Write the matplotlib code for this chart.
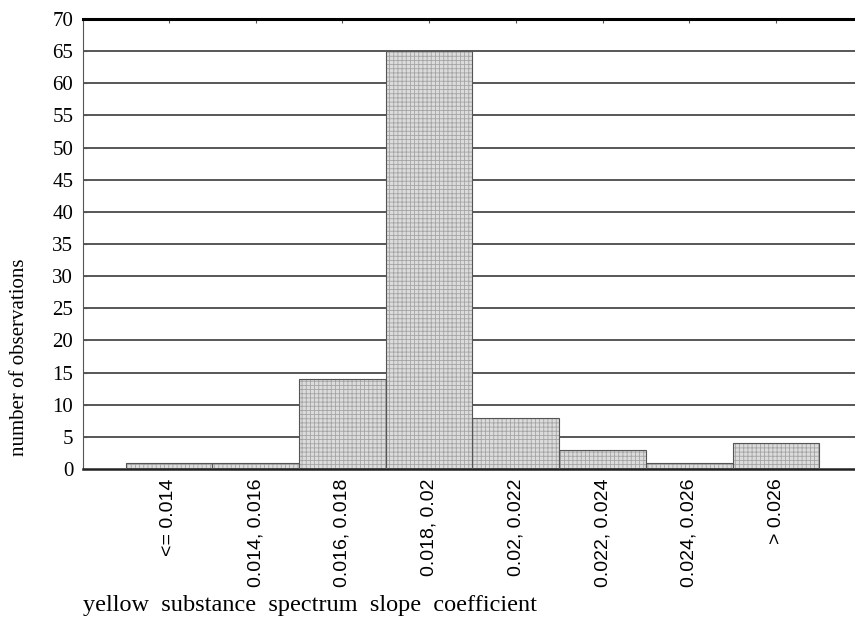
import numpy as np
import matplotlib
matplotlib.use("Agg")
import matplotlib.pyplot as plt

categories = ["<= 0.014", "0.014, 0.016", "0.016, 0.018", "0.018, 0.02",
              "0.02, 0.022", "0.022, 0.024", "0.024, 0.026", "> 0.026"]
counts = [1, 1, 14, 65, 8, 3, 1, 4]
yticks = list(range(0, 75, 5))

plt.rcParams['hatch.color'] = '#a4a4a4'
plt.rcParams['hatch.linewidth'] = 0.6

fig = plt.figure(figsize=(8.55, 6.3), dpi=100)
ax = fig.add_axes([0.0971, 0.2556, 0.9029, 0.7142])

x = np.arange(len(categories))
# grid first, bars cover it
for yv in yticks[1:-1]:
    ax.axhline(yv, color='#2a2a2a', lw=1.1, zorder=1)

# hatched fill then outline on top
ax.bar(x, counts, width=1.0, color='#dcdcdc', hatch='++++', edgecolor='#a4a4a4',
       linewidth=0, zorder=2)
ax.bar(x, counts, width=1.0, fill=False, edgecolor='#555555', linewidth=0.8, zorder=3)

ax.set_xlim(-0.99, 7.91)
ax.set_ylim(0, 70)
ax.set_yticks(yticks)
ax.set_yticklabels([str(v) for v in yticks], fontfamily='Liberation Serif', fontsize=15)
ax.set_xticks(x)
ax.set_xticklabels(categories, rotation=90, fontfamily='Liberation Sans', fontsize=14)
ax.tick_params(axis='y', direction='in', length=3, width=0.8, pad=7, color='#555555')
ax.tick_params(axis='x', direction='in', length=3, width=0.8, top=True, pad=7,
               color='#555555')

ax.spines['right'].set_visible(False)
ax.spines['top'].set_linewidth(2.2)
ax.spines['top'].set_color('black')
ax.spines['bottom'].set_linewidth(1.8)
ax.spines['bottom'].set_color('#222222')
ax.spines['left'].set_linewidth(0.8)
ax.spines['left'].set_color('#555555')

fig.text(20 / 855, 1 - 357 / 630, "number of observations", rotation=90,
         ha='center', va='center', fontfamily='Liberation Serif', fontsize=15)
fig.text(83 / 855, 1 - 606 / 630, "yellow  substance  spectrum  slope  coefficient",
         ha='left', va='center', fontfamily='Liberation Serif', fontsize=17.5)

fig.savefig("out.png", dpi=100)
